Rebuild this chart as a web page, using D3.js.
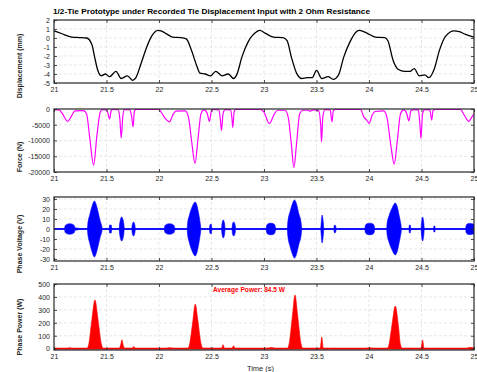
<!DOCTYPE html>
<html><head><meta charset="utf-8">
<script src="https://cdn.jsdelivr.net/npm/d3@7/dist/d3.min.js"></script>
<style>
body{margin:0;background:#fff;}
svg{display:block;font-family:"Liberation Sans",Arial,sans-serif;}
</style></head><body>
<svg id="c" width="477" height="372"></svg>
<script>
// ---------------- data ----------------
const titleText = "1/2-Tie Prototype under Recorded Tie Displacement Input with 2 Ohm Resistance";
const xTicks = [21, 21.5, 22, 22.5, 23, 23.5, 24, 24.5, 25];

const dispTicks = [-5, -4, -3, -2, -1, 0, 1, 2];
const dispT = [21.00,21.07,21.17,21.24,21.31,21.36,21.39,21.42,21.45,21.49,21.53,21.59,21.64,21.70,21.75,21.78,21.83,21.88,21.93,21.99,
  22.02,22.08,22.13,22.21,22.26,22.31,22.36,22.39,22.44,22.49,22.54,22.60,22.66,22.71,22.74,22.79,22.85,22.93,22.96,
  23.01,23.09,23.18,23.22,23.26,23.31,23.36,23.41,23.46,23.50,23.55,23.61,23.66,23.71,23.76,23.82,23.88,23.91,
  23.98,24.06,24.15,24.18,24.23,24.28,24.34,24.39,24.43,24.48,24.53,24.57,24.62,24.67,24.73,24.81,24.86,24.92,25.00];
const dispV = [0.8,0.5,0.1,0.05,0.0,-0.7,-2.3,-3.7,-4.2,-4.0,-4.3,-3.7,-4.5,-4.2,-4.7,-4.4,-2.8,-1.1,0.2,0.85,
  0.8,0.4,0.1,0.05,-0.1,-1.4,-3.1,-3.9,-4.0,-4.2,-3.7,-4.2,-4.0,-4.5,-4.1,-2.1,-0.4,0.7,0.85,
  0.55,0.1,0.05,-0.3,-2.1,-3.9,-4.5,-4.4,-4.4,-3.6,-4.5,-4.3,-4.6,-4.1,-2.1,-0.4,0.7,0.85,
  0.55,0.1,0.05,-0.3,-2.5,-3.5,-3.7,-3.7,-3.4,-4.2,-4.1,-4.4,-3.5,-1.4,0.2,0.8,0.7,0.4,0.1];

const forceTicks = [-20000, -15000, -10000, -5000, 0];
const forceT = [21.00,21.05,21.08,21.13,21.17,21.20,21.28,21.31,21.34,21.377,21.41,21.44,21.46,21.50,21.515,21.53,21.545,21.56,
  21.61,21.627,21.64,21.655,21.67,21.72,21.74,21.753,21.765,21.78,22.00,22.03,22.06,22.10,22.13,22.16,22.25,22.28,22.31,22.343,
  22.37,22.40,22.43,22.46,22.48,22.50,22.52,22.57,22.585,22.595,22.61,22.63,22.68,22.695,22.703,22.715,22.73,22.97,23.00,23.05,
  23.10,23.13,23.20,23.23,23.26,23.285,23.31,23.34,23.37,23.42,23.44,23.47,23.52,23.54,23.548,23.56,23.58,23.63,23.648,23.66,
  23.68,23.92,23.95,23.985,24.00,24.03,24.06,24.14,24.17,24.21,24.24,24.27,24.30,24.33,24.36,24.38,24.40,24.43,24.47,24.485,
  24.495,24.51,24.53,24.58,24.597,24.61,24.63,24.87,24.90,24.95,24.98,25.00];
const forceV = [-200,-300,-1500,-3900,-2000,-600,-500,-1500,-9000,-17800,-8000,-1000,-200,-300,-1500,-3200,-500,-100,
  -200,-3000,-9200,-2500,-200,-200,-2500,-5700,-800,-100,-100,-1500,-3000,-4100,-2000,-700,-600,-2500,-10000,-17300,
  -10000,-1500,-300,-1500,-3900,-500,-100,-300,-3500,-6800,-1500,-200,-300,-3000,-5900,-1000,-100,-100,-1000,-4600,
  -1500,-400,-400,-2500,-11000,-18600,-11000,-1500,-400,-400,-700,-300,-500,-5000,-10500,-2500,-200,-300,-4100,-500,
  -100,-100,-2500,-3800,-4600,-2000,-800,-600,-2500,-12000,-17500,-10000,-1500,-300,-1500,-3800,-500,-200,-300,-5000,
  -9400,-1500,-200,-300,-3500,-500,-100,-100,-1500,-3900,-2500,-1500];

const voltTicks = [-30, -20, -10, 0, 10, 20, 30];
// envelope (peak amplitude) of the phase-voltage oscillation
const voltT = [21.00,21.10,21.105,21.12,21.15,21.18,21.195,21.20,21.23,21.24,
  21.318,21.322,21.34,21.36,21.385,21.40,21.42,21.44,21.455,21.46,
  21.525,21.53,21.545,21.55,21.62,21.625,21.645,21.665,21.67,21.74,21.745,21.757,21.77,21.775,
  22.05,22.055,22.07,22.10,22.13,22.145,22.15,22.17,
  22.268,22.272,22.29,22.315,22.345,22.36,22.38,22.395,22.40,
  22.48,22.485,22.497,22.505,22.595,22.60,22.612,22.625,22.63,22.695,22.70,22.712,22.725,22.73,
  23.02,23.025,23.04,23.065,23.09,23.105,23.11,23.13,
  23.222,23.226,23.25,23.27,23.29,23.31,23.33,23.355,23.36,
  23.54,23.545,23.553,23.565,23.57,23.665,23.668,23.675,23.683,23.687,
  23.96,23.965,23.98,24.01,24.035,24.05,24.055,
  24.168,24.172,24.19,24.22,24.25,24.27,24.29,24.305,24.31,
  24.38,24.385,24.392,24.40,24.495,24.50,24.51,24.522,24.527,24.615,24.618,24.627,24.63,
  24.92,24.925,24.94,24.965,24.99,25.00];
const voltA = [0.3,0.3,3,4.6,5.3,4.6,3,1.2,0.8,0.3,
  0.3,5,14,22,28,25,17,8,3,0.3,
  0.3,4,4,0.3,0.3,5,12,5,0.3,0.3,4,7,4,0.3,
  0.3,3,4.6,5.3,4.6,3,1,0.3,
  0.3,5,14,22,27,24,14,4,0.3,
  0.3,4,5,0.3,0.3,5,9,5,0.3,0.3,5,7,4,0.3,
  0.3,3.5,5.3,5.8,5.3,3.5,1,0.3,
  0.3,6,18,25,29,25,16,5,0.3,
  0.3,6,14,6,0.3,0.3,3,4,3,0.3,
  0.3,3.5,5.2,5.8,5.2,3,0.3,
  0.3,5,13,21,26,22,12,4,0.3,
  0.3,4,4,0.3,0.3,6,12,6,0.3,0.3,3,3,0.3,
  0.3,3.5,5.2,5.6,5,4.5];

const powTicks = [0, 100, 200, 300, 400, 500];
const powT = [21.00,21.12,21.15,21.18,21.31,21.33,21.36,21.39,21.42,21.45,21.47,21.62,21.635,21.647,21.66,21.675,21.745,21.76,21.775,
  22.05,22.10,22.15,22.27,22.29,22.32,22.345,22.37,22.40,22.42,22.48,22.49,22.50,22.595,22.61,22.625,22.695,22.71,22.725,
  23.02,23.07,23.12,23.22,23.24,23.27,23.295,23.32,23.35,23.37,23.535,23.55,23.565,23.66,23.67,23.68,
  23.96,24.00,24.05,24.17,24.19,24.22,24.25,24.28,24.30,24.32,24.38,24.39,24.40,24.495,24.51,24.525,24.61,24.62,24.63,
  24.92,24.96,25.00];
const powV = [0,0,8,0,0,30,220,377,220,40,0,0,30,69,25,0,0,18,0,
  0,8,0,0,30,200,344,220,40,0,0,8,0,0,31,0,0,23,0,
  0,10,0,0,40,250,415,260,50,0,0,90,0,0,6,0,
  0,8,0,0,30,190,330,180,30,0,0,6,0,0,67,0,0,5,0,
  0,10,5];
const avgPowerLabel = "Average Power: 84.5 W";
const yLabels = ["Displacement (mm)", "Force (N)", "Phase Voltage (V)", "Phase Power (W)"];

// ---------------- drawing ----------------
const svg = d3.select("#c");
const x = d3.scaleLinear().domain([21, 25]).range([54, 474]);
const textCol = "#262626";
const fmt = d => String(d);

const panels = [
  {top: 20, bottom: 83, domain: [-5, 2], ticks: dispTicks, label: yLabels[0], labelY: 66},
  {top: 109, bottom: 172, domain: [-20000, 0], ticks: forceTicks, label: yLabels[1], labelY: 157},
  {top: 197, bottom: 261, domain: [-32, 32], ticks: voltTicks, label: yLabels[2], labelY: 244},
  {top: 284, bottom: 350, domain: [-10, 500], ticks: powTicks, label: yLabels[3], labelY: 327}
];

panels.forEach((p, i) => {
  p.y = d3.scaleLinear().domain(p.domain).range([p.bottom, p.top]);
  const g = svg.append("g");
  g.append("rect").attr("x", 54).attr("y", p.top).attr("width", 420).attr("height", p.bottom - p.top).attr("fill", "#fff");
  // grid
  g.append("g").selectAll("line").data(xTicks.slice(1, -1)).join("line")
    .attr("x1", d => x(d)).attr("x2", d => x(d)).attr("y1", p.top).attr("y2", p.bottom)
    .attr("stroke", "#d8d8d8").attr("stroke-width", 0.6).attr("stroke-dasharray", "3,2");
  g.append("g").selectAll("line").data(p.ticks.filter(t => p.y(t) > p.top + 1 && p.y(t) < p.bottom - 1)).join("line")
    .attr("x1", 54).attr("x2", 474).attr("y1", d => p.y(d)).attr("y2", d => p.y(d))
    .attr("stroke", "#d8d8d8").attr("stroke-width", 0.6).attr("stroke-dasharray", "3,2");
  // clip
  svg.append("clipPath").attr("id", "clip" + i).append("rect")
    .attr("x", 54).attr("y", p.top).attr("width", 420).attr("height", p.bottom - p.top);
  p.plot = svg.append("g").attr("clip-path", `url(#clip${i})`);
  p.g = g;
});

// displacement
{
  const p = panels[0];
  const data = dispT.map((t, i) => [t, dispV[i]]);
  p.plot.append("path").datum(data)
    .attr("d", d3.line().x(d => x(d[0])).y(d => p.y(d[1])).curve(d3.curveMonotoneX))
    .attr("fill", "none").attr("stroke", "#000").attr("stroke-width", 1.3);
}
// force
{
  const p = panels[1];
  const data = forceT.map((t, i) => [t, forceV[i]]);
  p.plot.append("path").datum(data)
    .attr("d", d3.line().x(d => x(d[0])).y(d => p.y(d[1])).curve(d3.curveMonotoneX))
    .attr("fill", "none").attr("stroke", "#ff00ff").attr("stroke-width", 1.2);
}
// voltage
{
  const p = panels[2];
  const data = voltT.map((t, i) => [t, voltA[i]]);
  p.plot.append("line").attr("x1", 54).attr("x2", 474).attr("y1", p.y(0)).attr("y2", p.y(0))
    .attr("stroke", "#0000ff").attr("stroke-width", 1.3);
  p.plot.append("path").datum(data)
    .attr("d", d3.area().x(d => x(d[0])).y0(d => p.y(-d[1])).y1(d => p.y(d[1])).curve(d3.curveMonotoneX))
    .attr("fill", "#0000ff").attr("stroke", "#0000ff").attr("stroke-width", 0.6);
}
// power
{
  const p = panels[3];
  const data = powT.map((t, i) => [t, powV[i]]);
  p.plot.append("path").datum(data)
    .attr("d", d3.area().x(d => x(d[0])).y0(p.y(0)).y1(d => p.y(d[1])).curve(d3.curveMonotoneX))
    .attr("fill", "#ff0000").attr("stroke", "#ff0000").attr("stroke-width", 0.6);
  p.plot.append("line").attr("x1", 54).attr("x2", 474).attr("y1", p.y(0)).attr("y2", p.y(0))
    .attr("stroke", "#ff0000").attr("stroke-width", 1.8);
  svg.append("text").attr("x", 213).attr("y", 291.5).text(avgPowerLabel)
    .attr("fill", "#ff0000").attr("font-size", 7).attr("font-weight", "bold")
    .attr("textLength", 72).attr("lengthAdjust", "spacingAndGlyphs");
}

// axes and frame
panels.forEach((p, i) => {
  const g = svg.append("g");
  const styleAxis = sel => {
    sel.select(".domain").remove();
    sel.selectAll(".tick line").attr("stroke", textCol).attr("stroke-width", 0.8);
    sel.selectAll("text").attr("fill", textCol).attr("font-size", 7).attr("font-family", "Liberation Sans, Arial, sans-serif");
  };
  g.append("g").attr("transform", `translate(0,${p.bottom})`)
    .call(d3.axisBottom(x).tickValues(xTicks).tickFormat(fmt).tickSizeInner(-3).tickSizeOuter(0).tickPadding(4))
    .call(styleAxis);
  g.append("g").attr("transform", `translate(0,${p.top})`)
    .call(d3.axisTop(x).tickValues(xTicks).tickFormat("").tickSizeInner(-3).tickSizeOuter(0))
    .call(styleAxis);
  g.append("g").attr("transform", `translate(54,0)`)
    .call(d3.axisLeft(p.y).tickValues(p.ticks).tickFormat(fmt).tickSizeInner(-3).tickSizeOuter(0).tickPadding(4))
    .call(styleAxis);
  g.append("g").attr("transform", `translate(474,0)`)
    .call(d3.axisRight(p.y).tickValues(p.ticks).tickFormat("").tickSizeInner(-3).tickSizeOuter(0))
    .call(styleAxis);
  g.append("rect").attr("x", 54).attr("y", p.top).attr("width", 420).attr("height", p.bottom - p.top)
    .attr("fill", "none").attr("stroke", textCol).attr("stroke-width", 1.2);
  svg.append("text").attr("transform", `translate(19,${p.labelY}) rotate(-90)`)
    .attr("text-anchor", "middle").attr("dominant-baseline", "central")
    .attr("font-size", 7).attr("font-weight", "bold").attr("fill", textCol).text(p.label);
});

svg.append("text").attr("x", 53).attr("y", 14).text(titleText)
  .attr("font-size", 8).attr("font-weight", "bold").attr("fill", "#000")
  .attr("textLength", 317).attr("lengthAdjust", "spacingAndGlyphs");
svg.append("text").attr("x", 260.5).attr("y", 371).attr("text-anchor", "middle")
  .attr("font-size", 7.5).attr("fill", textCol).text("Time (s)");
</script>
</body></html>
